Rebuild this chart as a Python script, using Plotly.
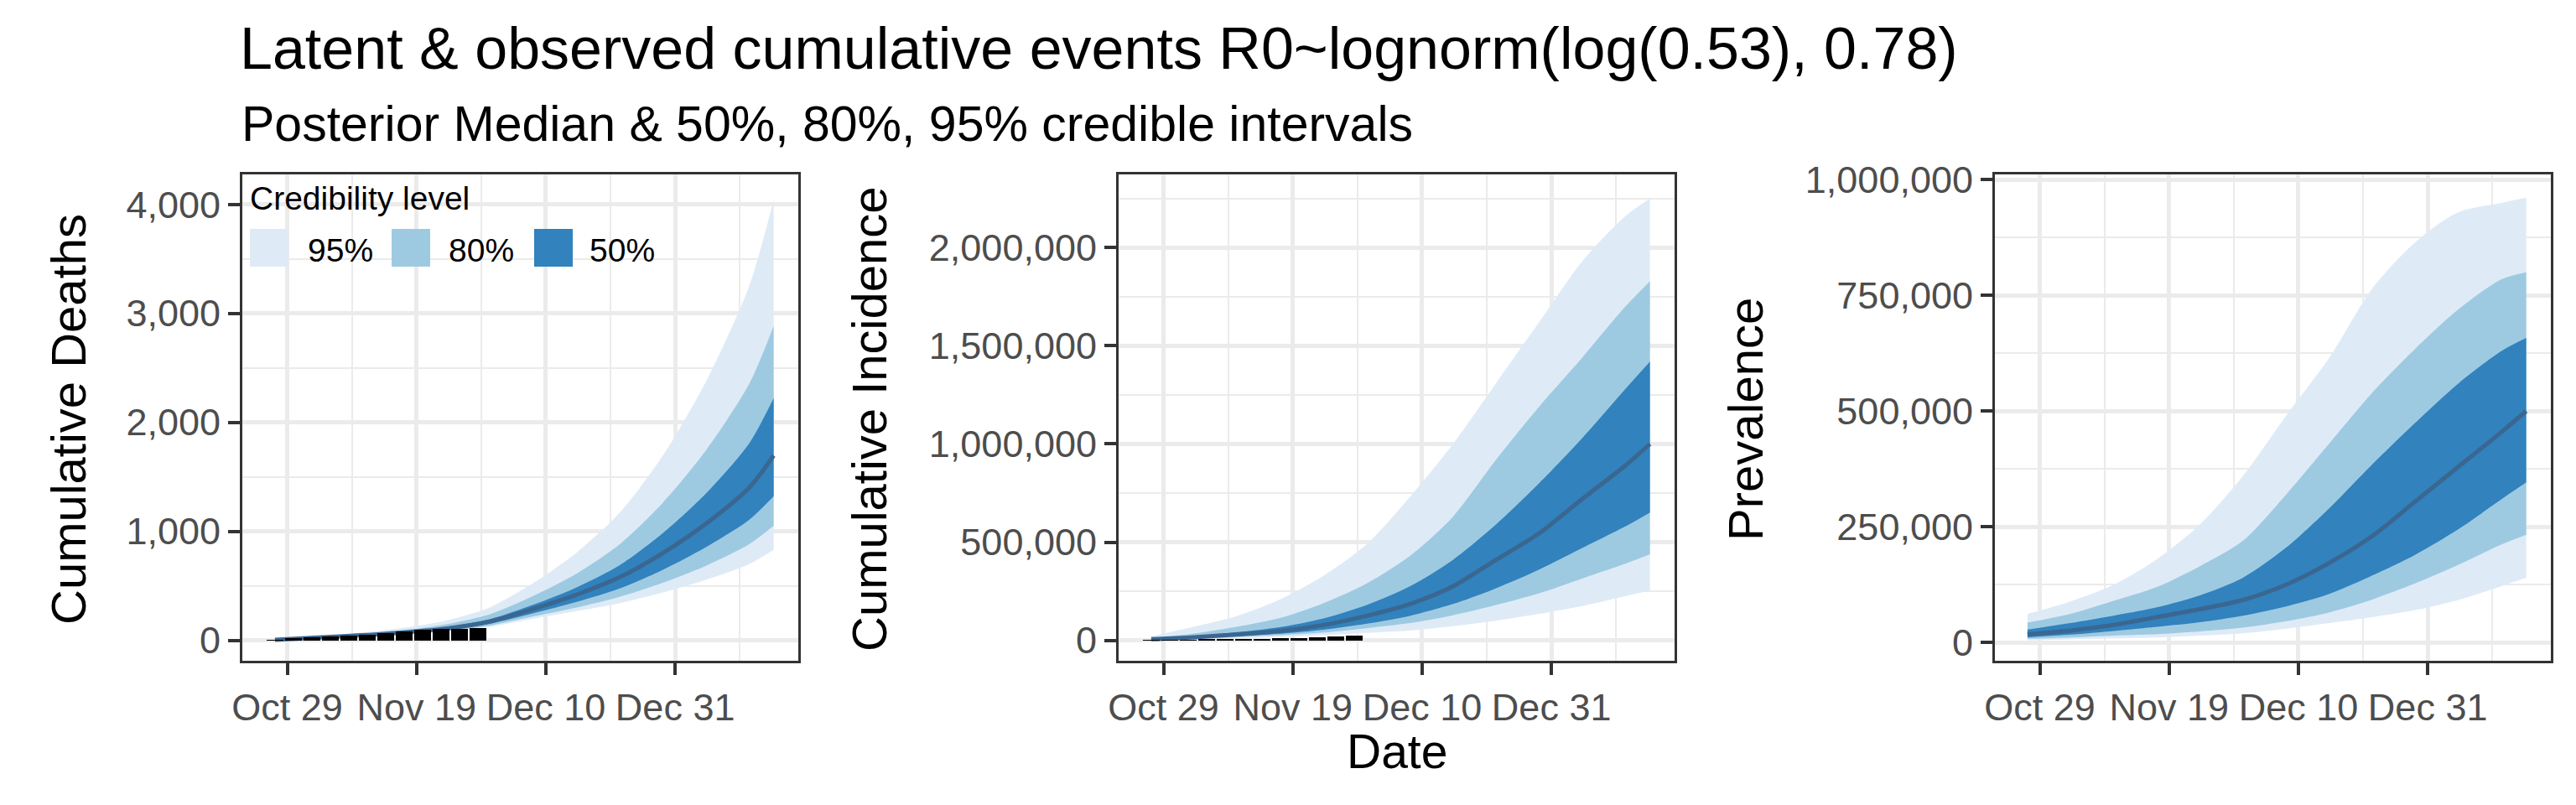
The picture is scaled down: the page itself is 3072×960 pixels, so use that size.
import plotly.graph_objects as go
from datetime import datetime, timedelta

# ---------------- data ----------------
band_dates = ["2020-10-27", "2020-11-03", "2020-11-10", "2020-11-17", "2020-11-24",
              "2020-12-01", "2020-12-08", "2020-12-15", "2020-12-22", "2020-12-29",
              "2021-01-05", "2021-01-12", "2021-01-16"]

# Cumulative deaths
deaths_lo95 = [5, 21, 37, 55, 81, 126, 200, 269, 342, 440, 556, 700, 831]
deaths_lo80 = [5, 23, 39, 60, 88, 137, 220, 302, 400, 528, 685, 882, 1052]
deaths_lo50 = [6, 24, 43, 66, 98, 154, 249, 353, 476, 648, 856, 1106, 1323]
deaths_med = [6, 26, 47, 73, 110, 175, 290, 420, 580, 800, 1070, 1400, 1696]
deaths_hi50 = [6, 28, 51, 80, 122, 196, 328, 487, 690, 984, 1348, 1806, 2222]
deaths_hi80 = [7, 31, 59, 95, 149, 242, 409, 613, 882, 1264, 1744, 2352, 2885]
deaths_hi95 = [8, 36, 71, 117, 185, 306, 528, 806, 1172, 1696, 2375, 3248, 4042]

# Cumulative incidence
inc_lo95 = [3000, 7000, 12000, 18000, 26000, 38000, 50000, 72000, 100000, 135000, 175000, 225000, 254000]
inc_lo80 = [4000, 10000, 17000, 26000, 40000, 62000, 88000, 128000, 180000, 240000, 315000, 390000, 438000]
inc_lo50 = [5000, 12000, 22000, 34000, 54000, 85000, 125000, 185000, 265000, 360000, 470000, 580000, 651000]
inc_med = [6000, 16000, 30000, 48000, 78000, 125000, 185000, 275000, 410000, 545000, 720000, 890000, 1000000]
inc_hi50 = [8000, 22000, 42000, 68000, 112000, 180000, 275000, 410000, 590000, 800000, 1030000, 1280000, 1420000]
inc_hi80 = [12000, 35000, 70000, 115000, 190000, 290000, 430000, 630000, 920000, 1190000, 1440000, 1700000, 1829000]
inc_hi95 = [20000, 70000, 125000, 210000, 330000, 490000, 730000, 1000000, 1310000, 1620000, 1930000, 2160000, 2250000]

# Prevalence
prev_lo95 = [5000, 7000, 9000, 11000, 15000, 20000, 30000, 42000, 55000, 70000, 92000, 122000, 140000]
prev_lo80 = [8000, 11000, 15000, 18000, 24000, 32000, 46000, 65000, 93000, 128000, 168000, 212000, 233000]
prev_lo50 = [11000, 17000, 25000, 34000, 44000, 58000, 78000, 105000, 145000, 190000, 245000, 310000, 346000]
prev_med = [18000, 26000, 38000, 55000, 72000, 92000, 125000, 172000, 230000, 305000, 380000, 455000, 500000]
prev_hi50 = [28000, 42000, 58000, 76000, 102000, 140000, 205000, 290000, 385000, 475000, 560000, 630000, 658000]
prev_hi80 = [43000, 62000, 90000, 120000, 165000, 220000, 320000, 430000, 540000, 635000, 720000, 785000, 800000]
prev_hi95 = [62000, 89000, 125000, 180000, 255000, 360000, 490000, 615000, 765000, 865000, 930000, 950000, 961000]

# Observed cumulative counts
obs_dates = ["2020-10-27", "2020-10-30", "2020-11-02", "2020-11-05", "2020-11-08", "2020-11-11",
             "2020-11-14", "2020-11-17", "2020-11-20", "2020-11-23", "2020-11-26", "2020-11-29"]
deaths_obs = [4, 18, 26, 33, 41, 48, 64, 80, 95, 103, 108, 115]
incidence_obs = [300, 1500, 2500, 3500, 5000, 6000, 8000, 11000, 13000, 16000, 19600, 24500]

tick_dates = ["2020-10-29", "2020-11-19", "2020-12-10", "2020-12-31"]
tick_labels = ["Oct 29", "Nov 19", "Dec 10", "Dec 31"]

levels = ["95%", "80%", "50%"]
level_colors = ["#DEEBF7", "#9ECAE1", "#3182BD"]
median_color = "#3A6690"

title = "Latent & observed cumulative events R0~lognorm(log(0.53), 0.78)"
subtitle = "Posterior Median & 50%, 80%, 95% credible intervals"
y_titles = ["Cumulative Deaths", "Cumulative Incidence", "Prevalence"]
y_ticks = [[0, 1000, 2000, 3000, 4000],
           [0, 500000, 1000000, 1500000, 2000000],
           [0, 250000, 500000, 750000, 1000000]]
y_minor = [500, 250000, 125000]
y_ranges = [[-187, 4275], [-104000, 2373000], [-39400, 1011400]]

# ---------------- layout geometry (pixels) ----------------
W, H = 3072, 960
FONT = "Liberation Sans, Arial, Helvetica, sans-serif"
panels_x = [(289, 952), (1334, 1997), (2379, 3042)]
panel_y = (208, 788)
ytitle_x = [81, 1036, 2081]

base = datetime(2020, 10, 29)
x_range = [(base + timedelta(days=-7.3)).strftime("%Y-%m-%d %H:%M"),
           (base + timedelta(days=83.0)).strftime("%Y-%m-%d %H:%M")]

fig = go.Figure()

series = [
    (deaths_lo95, deaths_lo80, deaths_lo50, deaths_med, deaths_hi50, deaths_hi80, deaths_hi95),
    (inc_lo95, inc_lo80, inc_lo50, inc_med, inc_hi50, inc_hi80, inc_hi95),
    (prev_lo95, prev_lo80, prev_lo50, prev_med, prev_hi50, prev_hi80, prev_hi95),
]

for i, (lo95, lo80, lo50, med, hi50, hi80, hi95) in enumerate(series):
    xa = "x" if i == 0 else f"x{i+1}"
    ya = "y" if i == 0 else f"y{i+1}"
    pairs = [(lo95, hi95), (lo80, hi80), (lo50, hi50)]
    for (lo, hi), col, lev in zip(pairs, level_colors, levels):
        fig.add_trace(go.Scatter(x=band_dates, y=lo, mode="lines", xaxis=xa, yaxis=ya,
                                 line=dict(width=0, color=col, shape="spline", smoothing=0.8),
                                 showlegend=False, hoverinfo="skip"))
        fig.add_trace(go.Scatter(x=band_dates, y=hi, mode="lines", xaxis=xa, yaxis=ya,
                                 fill="tonexty", fillcolor=col, name=lev,
                                 line=dict(width=0, color=col, shape="spline", smoothing=0.8),
                                 showlegend=False))
    fig.add_trace(go.Scatter(x=band_dates, y=med, mode="lines", xaxis=xa, yaxis=ya,
                             line=dict(width=5, color=median_color, shape="spline", smoothing=0.8),
                             name="Median", showlegend=False))

# observed bars drawn in overlay subplots so they sit on top of the ribbons
bar_width = 2.75 * 86400000
fig.add_trace(go.Bar(x=obs_dates, y=deaths_obs, xaxis="x4", yaxis="y4", width=bar_width,
                     marker=dict(color="black", line=dict(width=0)), showlegend=False))
fig.add_trace(go.Bar(x=obs_dates, y=incidence_obs, xaxis="x5", yaxis="y5", width=bar_width,
                     marker=dict(color="black", line=dict(width=0)), showlegend=False))

axis_common = dict(showline=True, linecolor="#333333", linewidth=3, mirror=True,
                   showgrid=True, gridcolor="#EBEBEB", gridwidth=4.5, zeroline=False,
                   automargin=False,
                   ticks="outside", ticklen=14, tickwidth=4, tickcolor="#333333",
                   tickfont=dict(family=FONT, size=45, color="#4D4D4D"))

layout = {}
for i in range(3):
    xk = "xaxis" if i == 0 else f"xaxis{i+1}"
    yk = "yaxis" if i == 0 else f"yaxis{i+1}"
    x0, x1 = panels_x[i]
    layout[xk] = dict(axis_common, type="date", domain=[x0 / W, x1 / W], range=x_range,
                      anchor="y" if i == 0 else f"y{i+1}",
                      tickmode="array", tickvals=tick_dates, ticktext=tick_labels,
                      minor=dict(showgrid=True, gridcolor="#EBEBEB", gridwidth=2.3,
                                 tick0="2020-10-29", dtick=10.5 * 86400000))
    layout[yk] = dict(axis_common, domain=[1 - panel_y[1] / H, 1 - panel_y[0] / H],
                      range=y_ranges[i], anchor="x" if i == 0 else f"x{i+1}",
                      tickmode="array", tickvals=y_ticks[i], tickformat=",d",
                      minor=dict(showgrid=True, gridcolor="#EBEBEB", gridwidth=2.3,
                                 tick0=0, dtick=y_minor[i]))

layout["xaxis4"] = dict(type="date", overlaying="x", anchor="y4", range=x_range, visible=False, automargin=False)
layout["yaxis4"] = dict(overlaying="y", anchor="x4", range=y_ranges[0], visible=False, automargin=False)
layout["xaxis5"] = dict(type="date", overlaying="x2", anchor="y5", range=x_range, visible=False, automargin=False)
layout["yaxis5"] = dict(overlaying="y2", anchor="x5", range=y_ranges[1], visible=False, automargin=False)

annotations = []
# subtitle
annotations.append(dict(text=subtitle, xref="paper", yref="paper", x=286 / W, y=1 - 148 / H,
                        xanchor="left", yanchor="middle", showarrow=False,
                        font=dict(family=FONT, size=59, color="black")))
# y-axis titles
for i in range(3):
    annotations.append(dict(text=y_titles[i], xref="paper", yref="paper",
                            x=ytitle_x[i] / W, y=1 - 500 / H, textangle=-90,
                            xanchor="center", yanchor="middle", showarrow=False,
                            font=dict(family=FONT, size=58, color="black")))
# x-axis title (middle panel)
annotations.append(dict(text="Date", xref="paper", yref="paper", x=1665.5 / W, y=1 - 896 / H,
                        xanchor="center", yanchor="middle", showarrow=False,
                        font=dict(family=FONT, size=57, color="black")))
# legend (drawn inside first panel)
annotations.append(dict(text="Credibility level", xref="paper", yref="paper", x=296 / W, y=1 - 236.5 / H,
                        xanchor="left", yanchor="middle", showarrow=False,
                        font=dict(family=FONT, size=39, color="black")))
shapes = []
key_x = [298, 467, 637]
label_x = [365, 533, 701]
for lev, col, kx, lx in zip(levels, level_colors, key_x, label_x):
    shapes.append(dict(type="rect", xref="paper", yref="paper", x0=kx / W, x1=(kx + 46) / W,
                       y0=1 - 318 / H, y1=1 - 273 / H, fillcolor=col, line=dict(width=0),
                       layer="above"))
    annotations.append(dict(text=lev, xref="paper", yref="paper", x=lx / W, y=1 - 298 / H,
                            xanchor="left", yanchor="middle", showarrow=False,
                            font=dict(family=FONT, size=39, color="black")))

fig.update_layout(
    template="none",
    width=W, height=H,
    margin=dict(l=0, r=0, t=0, b=0, pad=0),
    paper_bgcolor="white", plot_bgcolor="white",
    showlegend=False, bargap=0,
    title=dict(text=title, x=286 / W, xanchor="left", y=1 - 57 / H, yanchor="middle",
               xref="container", yref="container", automargin=False,
               font=dict(family=FONT, size=70, color="black")),
    annotations=annotations, shapes=shapes,
    **layout,
)

fig.write_html("out.html", config={"displayModeBar": False},
               post_script="document.body.style.margin='0px';")
